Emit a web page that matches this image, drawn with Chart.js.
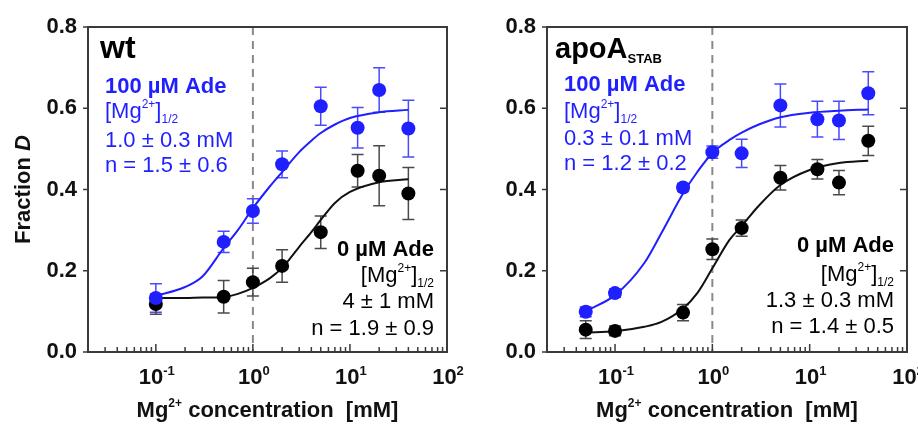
<!DOCTYPE html>
<html>
<head>
<meta charset="utf-8">
<script src="https://cdn.jsdelivr.net/npm/chart.js@4.4.1/dist/chart.umd.min.js"></script>
<style>
  html, body { margin: 0; padding: 0; background: #fff; }
  #wrap { position: relative; width: 918px; height: 427px; }
  canvas { display: block; position: absolute; top: 0; }
  #wt { left: 0; }
  #apo { left: 459px; }
</style>
</head>
<body>
<div id="wrap">
  <canvas id="wt" width="475" height="427"></canvas>
  <canvas id="apo" width="459" height="427"></canvas>
</div>
<script>
// ---- data ----
// wt panel
const wtConc = [0.1, 0.5, 1, 2, 5, 12, 20, 40];
const wtAde100 = [0.133, 0.271, 0.347, 0.462, 0.605, 0.552, 0.645, 0.55];
const wtAde100Err = [0.035, 0.026, 0.03, 0.033, 0.047, 0.05, 0.055, 0.07];
const wtAde0 = [0.118, 0.136, 0.172, 0.212, 0.295, 0.446, 0.434, 0.39];
const wtAde0Err = [0.025, 0.04, 0.034, 0.04, 0.04, 0.04, 0.074, 0.064];
const wtFitConc = [0.1, 0.2, 0.3, 0.5, 0.7, 1, 1.5, 2, 3, 4, 5, 7, 10, 20, 40];
const wtFitAde100 = [0.138, 0.160, 0.185, 0.256, 0.30, 0.354, 0.408, 0.443, 0.492, 0.52, 0.539, 0.560, 0.576, 0.59, 0.596];
const wtFitAde0 = [0.133, 0.133, 0.134, 0.135, 0.143, 0.158, 0.182, 0.207, 0.259, 0.295, 0.325, 0.367, 0.394, 0.418, 0.425];

// apoA_STAB panel
const apoConc = [0.05, 0.1, 0.5, 1, 2, 5, 12, 20, 40];
const apoAde100 = [0.099, 0.145, 0.405, 0.492, 0.489, 0.607, 0.573, 0.57, 0.637];
const apoAde100Err = [0.012, 0.01, 0.01, 0.015, 0.035, 0.053, 0.044, 0.047, 0.053];
const apoAde0 = [0.055, 0.052, 0.097, 0.253, 0.305, 0.429, 0.45, 0.417, 0.52];
const apoAde0Err = [0.022, 0.012, 0.02, 0.025, 0.02, 0.03, 0.024, 0.03, 0.036];
const apoFitConc = [0.05, 0.1, 0.2, 0.3, 0.5, 0.7, 1, 1.5, 2, 3, 5, 10, 20, 40];
const apoFitAde100 = [0.101, 0.14, 0.219, 0.293, 0.39, 0.443, 0.49, 0.522, 0.54, 0.56, 0.578, 0.589, 0.594, 0.597];
const apoFitAde0 = [0.048, 0.051, 0.062, 0.074, 0.107, 0.145, 0.206, 0.276, 0.31, 0.36, 0.411, 0.448, 0.465, 0.471];

// axis ticks
const xMajor = [0.1, 1, 10, 100];
const xExp = ['-1', '0', '1', '2'];
const yTicks = [0, 0.2, 0.4, 0.6, 0.8];

const BLUE = '#1f1fff';
const FONT = '"Liberation Sans", Arial, sans-serif';

function pts(xs, ys) { return xs.map((x, i) => ({x: x, y: ys[i]})); }

function drawRich(ctx, parts, x, y, align) {
  let total = 0;
  parts.forEach(p => { ctx.font = p.f; p.w = ctx.measureText(p.t).width; total += p.w; });
  let cx = align === 'right' ? x - total : align === 'center' ? x - total / 2 : x;
  ctx.textAlign = 'left';
  ctx.textBaseline = 'alphabetic';
  parts.forEach(p => { ctx.font = p.f; ctx.fillText(p.t, cx, y + (p.dy || 0)); cx += p.w; });
}

function mgHalf(size) {
  return [
    {t: '[Mg', f: size + 'px ' + FONT},
    {t: '2+', f: '12px ' + FONT, dy: -10},
    {t: ']', f: size + 'px ' + FONT},
    {t: '1/2', f: '12px ' + FONT, dy: 5}
  ];
}

// error bars, frame, ticks, dashed line and texts
const panelPlugin = {
  id: 'panel',
  beforeDatasetsDraw(chart) {
    const ctx = chart.ctx, a = chart.chartArea, xs = chart.scales.x, ys = chart.scales.y;
    ctx.save();
    // dashed line at 1 mM
    const xd = xs.getPixelForValue(1);
    ctx.strokeStyle = '#8a8a8a';
    ctx.lineWidth = 2;
    ctx.setLineDash([8, 6]);
    ctx.beginPath(); ctx.moveTo(xd, a.top); ctx.lineTo(xd, a.bottom); ctx.stroke();
    ctx.setLineDash([]);
    // error bars
    const cfg = chart.options.plugins.panel;
    cfg.errors.forEach(e => {
      ctx.strokeStyle = e.color;
      ctx.lineWidth = 1.5;
      e.x.forEach((xv, i) => {
        const px = xs.getPixelForValue(xv);
        const top = ys.getPixelForValue(e.y[i] + e.err[i]);
        const bot = ys.getPixelForValue(e.y[i] - e.err[i]);
        ctx.beginPath();
        ctx.moveTo(px, top); ctx.lineTo(px, bot);
        ctx.moveTo(px - 6, top); ctx.lineTo(px + 6, top);
        ctx.moveTo(px - 6, bot); ctx.lineTo(px + 6, bot);
        ctx.stroke();
      });
    });
    ctx.restore();
  },
  afterDraw(chart) {
    const ctx = chart.ctx, a = chart.chartArea, xs = chart.scales.x, ys = chart.scales.y;
    const cfg = chart.options.plugins.panel;
    ctx.save();
    ctx.strokeStyle = '#3a3a3a';
    ctx.lineWidth = 2;
    ctx.strokeRect(a.left, a.top, a.right - a.left, a.bottom - a.top);
    // y ticks: outside on left, inside on right
    ctx.lineWidth = 1.5;
    yTicks.forEach(v => {
      const py = ys.getPixelForValue(v);
      ctx.beginPath();
      ctx.moveTo(a.left - 5, py); ctx.lineTo(a.left, py);
      ctx.moveTo(a.right - 7, py); ctx.lineTo(a.right, py);
      ctx.stroke();
    });
    // x ticks inside, from the scale's ticks
    xs.ticks.forEach(t => {
      const px = xs.getPixelForValue(t.value);
      if (px < a.left + 1 || px > a.right - 1) return;
      const len = t.major ? 8 : 5;
      ctx.beginPath(); ctx.moveTo(px, a.bottom); ctx.lineTo(px, a.bottom - len); ctx.stroke();
    });
    // x tick labels 10^n
    ctx.fillStyle = '#111';
    xMajor.forEach((v, i) => {
      const px = xs.getPixelForValue(v);
      drawRich(ctx, [
        {t: '10', f: 'bold 22px ' + FONT},
        {t: xExp[i], f: 'bold 13px ' + FONT, dy: -9}
      ], px + 1, 384, 'center');
    });
    // x title
    drawRich(ctx, [
      {t: 'Mg', f: 'bold 22px ' + FONT},
      {t: '2+', f: 'bold 12px ' + FONT, dy: -10},
      {t: ' concentration  [mM]', f: 'bold 22px ' + FONT}
    ], (a.left + a.right) / 2, 417, 'center');
    // y title
    if (cfg.yTitle) {
      ctx.save();
      ctx.translate(22, (a.top + a.bottom) / 2);
      ctx.rotate(-Math.PI / 2);
      drawRich(ctx, [
        {t: 'Fraction ', f: 'bold 22px ' + FONT},
        {t: 'D', f: 'italic bold 22px ' + FONT}
      ], 0, 8, 'center');
      ctx.restore();
    }
    // panel name
    ctx.fillStyle = '#000';
    drawRich(ctx, cfg.name, a.left + cfg.nameDx, 58, 'left');
    // blue annotation
    const L = a.left + 17;
    ctx.fillStyle = BLUE;
    drawRich(ctx, [{t: '100 \u00b5M Ade', f: 'bold 22px ' + FONT}], L, cfg.blueY[0], 'left');
    drawRich(ctx, mgHalf(22), L, cfg.blueY[1], 'left');
    drawRich(ctx, [{t: cfg.blueTxt[0], f: '22px ' + FONT}], L, cfg.blueY[2], 'left');
    drawRich(ctx, [{t: cfg.blueTxt[1], f: '22px ' + FONT}], L, cfg.blueY[3], 'left');
    // black annotation
    const R = a.right - 13;
    ctx.fillStyle = '#000';
    drawRich(ctx, [{t: '0 \u00b5M Ade', f: 'bold 22px ' + FONT}], R, cfg.blackY[0], 'right');
    drawRich(ctx, mgHalf(22), R, cfg.blackY[1], 'right');
    drawRich(ctx, [{t: cfg.blackTxt[0], f: '22px ' + FONT}], R, cfg.blackY[2], 'right');
    drawRich(ctx, [{t: cfg.blackTxt[1], f: '22px ' + FONT}], R, cfg.blackY[3], 'right');
    ctx.restore();
  }
};

function makeChart(id, d, panel, padRight) {
  return new Chart(document.getElementById(id), {
    type: 'scatter',
    data: {
      datasets: [
        {data: pts(d.conc, d.ade100), backgroundColor: BLUE, borderColor: BLUE, pointRadius: 7, pointBorderWidth: 0, order: 1},
        {data: pts(d.conc, d.ade0), backgroundColor: '#000', borderColor: '#000', pointRadius: 7, pointBorderWidth: 0, order: 1},
        {data: pts(d.fitConc, d.fit100), showLine: true, borderColor: BLUE, borderWidth: 2, pointRadius: 0, cubicInterpolationMode: 'monotone', order: 2},
        {data: pts(d.fitConc, d.fit0), showLine: true, borderColor: '#111', borderWidth: 2, pointRadius: 0, cubicInterpolationMode: 'monotone', order: 2}
      ]
    },
    options: {
      responsive: false,
      animation: false,
      layout: {padding: {top: 27, right: padRight, left: 0, bottom: 0}},
      scales: {
        x: {
          type: 'logarithmic', min: 0.02, max: 100,
          grid: {display: false}, border: {display: false},
          ticks: {display: false},
          afterBuildTicks(scale) {
            const t = [];
            [0.01, 0.1, 1, 10].forEach(dec => {
              for (let k = 1; k <= 9; k++) {
                const v = dec * k;
                if (v >= 0.02 && v <= 100) t.push({value: v, major: k === 1});
              }
            });
            t.push({value: 100, major: true});
            scale.ticks = t;
          },
          afterFit(scale) { scale.height = 75; }
        },
        y: {
          min: 0, max: 0.8,
          grid: {display: false}, border: {display: false},
          ticks: {
            stepSize: 0.2, padding: 3, color: '#111',
            font: {family: FONT, size: 22, weight: 'bold'},
            callback: v => v.toFixed(1)
          },
          afterFit(scale) { scale.width = 88; }
        }
      },
      plugins: {
        legend: {display: false},
        tooltip: {enabled: false},
        panel: Object.assign({
          errors: [
            {x: d.conc, y: d.ade100, err: d.err100, color: '#4a4aff'},
            {x: d.conc, y: d.ade0, err: d.err0, color: '#4a4a4a'}
          ]
        }, panel)
      }
    },
    plugins: [panelPlugin]
  });
}

makeChart('wt', {
  conc: wtConc, ade100: wtAde100, err100: wtAde100Err, ade0: wtAde0, err0: wtAde0Err,
  fitConc: wtFitConc, fit100: wtFitAde100, fit0: wtFitAde0
}, {
  yTitle: true,
  name: [{t: 'wt', f: 'bold 32px ' + FONT}],
  nameDx: 12,
  blueY: [93, 118, 147, 172],
  blueTxt: ['1.0 \u00b1 0.3 mM', 'n = 1.5 \u00b1 0.6'],
  blackY: [256, 282, 308, 335],
  blackTxt: ['4 \u00b1 1 mM', 'n = 1.9 \u00b1 0.9']
}, 28);

makeChart('apo', {
  conc: apoConc, ade100: apoAde100, err100: apoAde100Err, ade0: apoAde0, err0: apoAde0Err,
  fitConc: apoFitConc, fit100: apoFitAde100, fit0: apoFitAde0
}, {
  yTitle: false,
  name: [{t: 'apoA', f: 'bold 29px ' + FONT}, {t: 'STAB', f: 'bold 13px ' + FONT, dy: 5}],
  nameDx: 8,
  blueY: [91, 118, 145, 170],
  blueTxt: ['0.3 \u00b1 0.1 mM', 'n = 1.2 \u00b1 0.2'],
  blackY: [252, 281, 307, 333],
  blackTxt: ['1.3 \u00b1 0.3 mM', 'n = 1.4 \u00b1 0.5']
}, 11);
</script>
</body>
</html>
